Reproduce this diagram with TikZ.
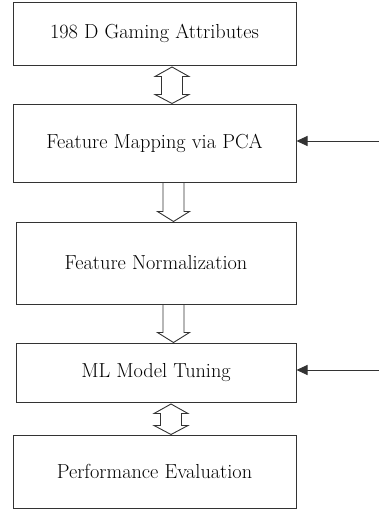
\documentclass[tikz,border=0pt]{standalone}
\usepackage{tikz}
\usetikzlibrary{arrows.meta,calc,positioning}
% hollow block arrows between two stacked boxes, shaft centred at x = #3
\newcommand{\flowdown}[3]{%
  \draw[blockarrow] let \p1=(#1.south), \p2=(#2.north) in
    (#3-10.5pt,\y1) -- (#3-10.5pt,\y2+10pt) -- (#3-16pt,\y2+10pt) -- (#3,\y2)
    -- (#3+16pt,\y2+10pt) -- (#3+10.5pt,\y2+10pt) -- (#3+10.5pt,\y1);}
\newcommand{\flowboth}[3]{%
  \draw[blockarrow] let \p1=(#1.south), \p2=(#2.north) in
    (#3,\y1-1.5pt) -- (#3+17pt,\y1-11pt) -- (#3+10.5pt,\y1-11pt) -- (#3+10.5pt,\y2+9pt)
    -- (#3+17pt,\y2+9pt) -- (#3,\y2) -- (#3-17pt,\y2+9pt) -- (#3-10.5pt,\y2+9pt)
    -- (#3-10.5pt,\y1-11pt) -- (#3-17pt,\y1-11pt) -- cycle;}

\begin{document}
\begin{tikzpicture}[
  x=1pt, y=-1pt,
  box/.style={draw=black!80, line width=1pt, inner sep=0pt,
    font=\fontsize{20.3}{24}\selectfont},
  blockarrow/.style={draw=black!80, line width=0.9pt, line join=miter},
  feed/.style={-{Triangle[length=11pt,width=10pt]}, draw=black!80, line width=1pt}
]
  \useasboundingbox (0,0) rectangle (379,509);

  % processing stages
  \node[box, minimum width=283pt, minimum height=63pt] (attr) at (154.5,33.5) {198 D Gaming Attributes};
  \node[box, minimum width=283pt, minimum height=78pt] (pca) at (154.5,143) {Feature Mapping via PCA};
  \node[box, minimum width=280pt, minimum height=82pt] (norm) at (156,263) {Feature Normalization};
  \node[box, minimum width=280pt, minimum height=59pt] (tune) at (156,372.5) {ML Model Tuning};
  \node[box, minimum width=283pt, minimum height=73pt] (eval) at (154.5,471.5) {Performance Evaluation};

  \flowboth{attr}{pca}{172pt}
  \flowdown{pca}{norm}{173.5pt}
  \flowdown{norm}{tune}{173.5pt}
  \flowboth{tune}{eval}{171pt}

  % outside inputs
  \coordinate (in1) at (379,141);
  \coordinate (in2) at (379,370);
  \draw[feed] (in1) -- (in1 -| pca.east);
  \draw[feed] (in2) -- (in2 -| tune.east);
\end{tikzpicture}
\end{document}
